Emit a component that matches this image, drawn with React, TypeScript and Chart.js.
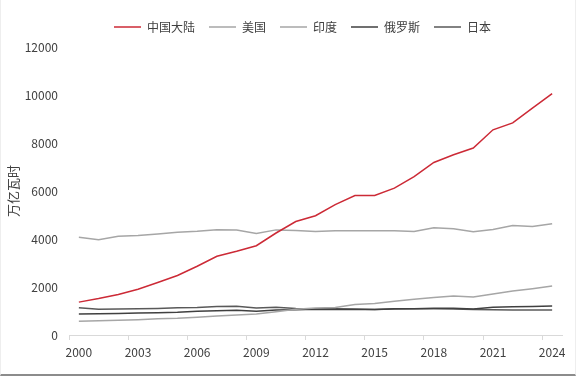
import React, { useEffect, useRef } from "react";
import { Chart, registerables } from "chart.js";

Chart.register(...registerables);

const years = [
  "2000", "2001", "2002", "2003", "2004", "2005", "2006", "2007", "2008", "2009",
  "2010", "2011", "2012", "2013", "2014", "2015", "2016", "2017", "2018", "2019",
  "2020", "2021", "2022", "2023", "2024",
];

const china = [1370, 1520, 1690, 1910, 2190, 2480, 2865, 3280, 3490, 3720, 4250, 4730, 4970, 5430, 5810, 5810, 6120, 6600, 7190, 7510, 7790, 8550, 8840, 9450, 10060];
const usa = [4070, 3970, 4110, 4150, 4210, 4280, 4320, 4390, 4370, 4230, 4380, 4350, 4310, 4340, 4340, 4340, 4340, 4310, 4470, 4430, 4300, 4400, 4560, 4520, 4640];
const india = [570, 590, 610, 640, 680, 700, 740, 790, 830, 880, 970, 1070, 1120, 1150, 1270, 1310, 1410, 1490, 1560, 1620, 1580, 1710, 1830, 1930, 2040];
const russia = [870, 890, 900, 915, 930, 950, 990, 1010, 1030, 990, 1040, 1055, 1070, 1060, 1065, 1065, 1090, 1090, 1110, 1110, 1085, 1160, 1180, 1190, 1210];
const japan = [1135, 1070, 1085, 1090, 1105, 1135, 1150, 1190, 1195, 1120, 1160, 1100, 1090, 1090, 1080, 1060, 1080, 1090, 1090, 1080, 1060, 1050, 1045, 1040, 1040];

const seriesNames = ["中国大陆", "美国", "印度", "俄罗斯", "日本"];
const yTicks = [0, 2000, 4000, 6000, 8000, 10000, 12000];
const yTitle = "万亿瓦时";

const FONT = "'Noto Sans CJK SC', 'Noto Sans', sans-serif";

const legendTweak = {
  id: "legendTweak",
  beforeLayout(chart: any) {
    const lg = chart.legend;
    if (lg && !lg._patched) {
      const f = lg.fit.bind(lg);
      lg.fit = function () {
        f();
        this.height += 4;
      };
      lg._patched = true;
    }
  },
  afterLayout(chart: any) {
    if (chart.legend) {
      chart.legend.left += 42;
    }
  },
};

export default function App() {
  const ref = useRef<HTMLCanvasElement | null>(null);

  useEffect(() => {
    document.body.style.margin = "0";
    const canvas = ref.current;
    if (!canvas) return;
    const colors = ["#cc2a36", "#a6a6a6", "#a6a6a6", "#404040", "#595959"];
    const data = [china, usa, india, russia, japan];
    const chart = new Chart(canvas, {
      type: "line",
      data: {
        labels: years,
        datasets: seriesNames.map((name, i) => ({
          label: name,
          data: data[i],
          borderColor: colors[i],
          backgroundColor: colors[i],
          borderWidth: 1.5,
          pointRadius: 0,
          pointHoverRadius: 0,
          tension: 0,
          fill: false,
          pointStyle: "line",
        })),
      },
      plugins: [legendTweak],
      options: {
        animation: false,
        responsive: false,
        maintainAspectRatio: false,
        layout: { padding: { left: 0, right: 13, top: 7, bottom: 0 } },
        plugins: {
          legend: {
            display: true,
            position: "top",
            labels: {
              usePointStyle: true,
              pointStyleWidth: 27,
              boxHeight: 12,
              padding: 14,
              color: "#404040",
              font: { family: FONT, size: 12 },
            },
          },
          tooltip: { enabled: false },
        },
        scales: {
          x: {
            type: "category",
            offset: true,
            border: { display: true, color: "#d9d9d9", width: 1 },
            grid: {
              display: true,
              offset: true,
              drawOnChartArea: false,
              drawTicks: true,
              tickLength: 5,
              color: (ctx: any) => (ctx.index % 3 === 0 ? "#d9d9d9" : "rgba(0,0,0,0)"),
            },
            ticks: {
              autoSkip: false,
              maxRotation: 0,
              minRotation: 0,
              color: "#404040",
              font: { family: FONT, size: 12 },
              padding: 5,
              callback: (_v: any, i: number) => (i % 3 === 0 ? years[i] : ""),
            },
            afterFit: (s: any) => {
              s.height = 39;
            },
          },
          y: {
            min: 0,
            max: 12000,
            border: { display: false },
            grid: { display: false, drawTicks: false },
            afterBuildTicks: (s: any) => {
              s.ticks = yTicks.map((v) => ({ value: v }));
            },
            ticks: {
              color: "#404040",
              font: { family: FONT, size: 12 },
              padding: 11,
              callback: (v: any) => String(v),
            },
            title: {
              display: true,
              text: yTitle,
              color: "#404040",
              font: { family: FONT, size: 13 },
              padding: { top: 4, bottom: 0 },
            },
            afterFit: (s: any) => {
              s.width = 68;
            },
          },
        },
      },
    });
    return () => chart.destroy();
  }, []);

  return (
    <div
      style={{
        position: "absolute",
        left: 0,
        top: 0,
        width: 576,
        height: 376,
        boxSizing: "border-box",
        borderLeft: "1px solid #eeeeee",
        borderRight: "1px solid #eeeeee",
        borderBottom: "2px solid #8c8c8c",
        background: "#fff",
      }}
    >
      <canvas ref={ref} width={574} height={374} style={{ display: "block" }} />
    </div>
  );
}
